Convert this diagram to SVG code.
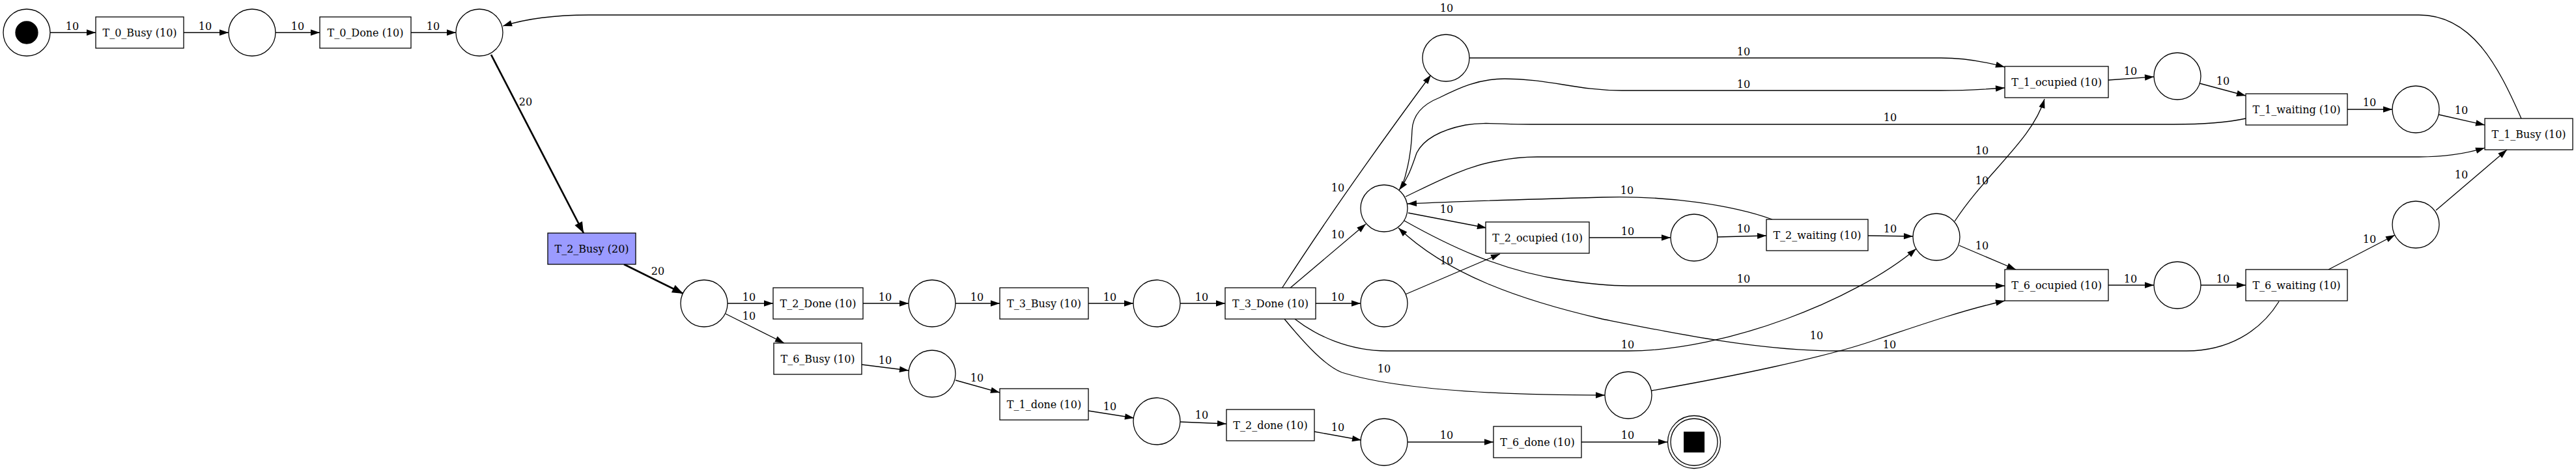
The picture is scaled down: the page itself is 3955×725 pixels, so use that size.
<svg xmlns="http://www.w3.org/2000/svg" width="3955" height="725" viewBox="0 0 3955 725">
<style>
.tr rect{fill:#ffffff;stroke:#000;stroke-width:1.3}
.pl circle{fill:#ffffff;stroke:#000;stroke-width:1.3}
text{font-family:"DejaVu Serif","Liberation Serif",serif;font-size:16px;text-anchor:middle;fill:#000}
#edges path{fill:none;stroke:#000;stroke-width:1.3;marker-end:url(#ah)}
#edges path.thick{stroke-width:2.7;marker-end:url(#ahb)}
</style>
<defs>
<marker id="ah" markerUnits="userSpaceOnUse" markerWidth="14" markerHeight="10" refX="14" refY="5" orient="auto" overflow="visible"><path d="M0,0.3 L14,5 L0,9.7 z" fill="#000"/></marker>
<marker id="ahb" markerUnits="userSpaceOnUse" markerWidth="18" markerHeight="14" refX="17" refY="7" orient="auto" overflow="visible"><path d="M0,0.5 L17,7 L0,13.5 z" fill="#000"/></marker>
</defs>
<rect width="3955" height="725" fill="#ffffff"/>

<g id="edges">
<path d="M77,50 L147,50"/><text x="111" y="46">10</text>
<path d="M282,50 L351,50"/><text x="315" y="46">10</text>
<path d="M423,50 L491,50"/><text x="457" y="46">10</text>
<path d="M631,50 L700,50"/><text x="665" y="46">10</text>
<path class="thick" d="M754,84 L896,358"/><text x="807" y="162">20</text>
<path class="thick" d="M958,406 L1049,451"/><text x="1010" y="422">20</text>
<path d="M1117,466 L1187,466"/><text x="1150" y="462">10</text>
<path d="M1114,482 L1204,527"/><text x="1150" y="491">10</text>
<path d="M1325,466 L1395,466"/><text x="1359" y="462">10</text>
<path d="M1323,560 L1395,569"/><text x="1359" y="559">10</text>
<path d="M1467,466 L1535,466"/><text x="1500" y="462">10</text>
<path d="M1467,584 L1535,603"/><text x="1500" y="586">10</text>
<path d="M1671,466 L1740,466"/><text x="1704" y="462">10</text>
<path d="M1671,631 L1741,642"/><text x="1704" y="630">10</text>
<path d="M1812,466 L1881,466"/><text x="1845" y="462">10</text>
<path d="M1812,648 L1883,651"/><text x="1845" y="643">10</text>
<path d="M2020,466 L2089,466"/><text x="2054" y="462">10</text>
<path d="M2018,663 L2090,676"/><text x="2054" y="662">10</text>
<path d="M2161,679 L2293,679"/><text x="2221" y="674">10</text>
<path d="M2428,679 L2560,679"/><text x="2499" y="674">10</text>
<path d="M1968,443 Q2060,300 2197,115"/><text x="2054" y="294">10</text>
<path d="M1980,443 L2097,344"/><text x="2054" y="366">10</text>
<path d="M2158,452 L2303,390"/><text x="2221" y="406">10</text>
<path d="M2162,327 L2282,350"/><text x="2221" y="327">10</text>
<path d="M2440,365 L2565,365"/><text x="2499" y="361">10</text>
<path d="M2637,364 L2712,362"/><text x="2677" y="357">10</text>
<path d="M2721,337 C2660,315 2560,300 2460,303 C2350,306 2250,309 2161,313"/><text x="2498" y="298">10</text>
<path d="M2868,362 L2937,363"/><text x="2902" y="357">10</text>
<path d="M3001,340 C3050,265 3120,215 3139,152"/><text x="3043" y="283">10</text>
<path d="M3008,377 L3095,414"/><text x="3043" y="383">10</text>
<path d="M2256,89 L2980,89 C3010,89 3045,94 3078,103"/><text x="2677" y="85">10</text>
<path d="M2152,288 C2162,260 2167,230 2168,200 C2169,175 2185,160 2210,150 C2240,135 2270,121 2310,121 C2380,121 2420,139 2490,139 L2980,139 C3020,139 3050,137 3078,135"/><text x="2677" y="135">10</text>
<path d="M3448,182 C3420,188 3390,191 3337,191 L2350,191 C2300,191 2280,187 2250,192 C2210,200 2185,215 2175,235 C2168,255 2163,272 2148,292"/><text x="2902" y="186">10</text>
<path d="M2158,302 C2200,282 2250,255 2300,247 C2320,243 2340,241 2360,241 L3714,241 C3760,241 3790,235 3815,227"/><text x="3043" y="237">10</text>
<path d="M3871,182 C3835,100 3795,23 3714,23 L904,23 C850,23 810,28 772,40"/><text x="2221" y="18">10</text>
<path d="M3237,123 L3307,118"/><text x="3271" y="115">10</text>
<path d="M3377,128 L3448,147"/><text x="3413" y="130">10</text>
<path d="M3604,168 L3673,168"/><text x="3638" y="163">10</text>
<path d="M3744,176 L3815,192"/><text x="3779" y="175">10</text>
<path d="M2156,339 C2220,375 2300,415 2400,430 C2440,436 2470,439 2500,439 L3078,439"/><text x="2677" y="434">10</text>
<path d="M2536,600 C2650,580 2800,550 2880,522 C2960,495 3020,475 3078,462"/><text x="2789" y="521">10</text>
<path d="M1972,490 C2005,530 2035,562 2060,572 C2140,597 2280,607 2464,607"/><text x="2125" y="572">10</text>
<path d="M1988,490 C2020,515 2070,539 2130,539 L2500,539 C2650,539 2850,460 2942,382"/><text x="2499" y="535">10</text>
<path d="M3499,463 C3470,510 3420,539 3357,539 L2820,539 C2700,539 2560,510 2460,490 C2330,460 2220,420 2147,350"/><text x="2901" y="535">10</text>
<path d="M3237,438 L3307,438"/><text x="3271" y="434">10</text>
<path d="M3379,438 L3448,438"/><text x="3413" y="434">10</text>
<path d="M3575,414 L3677,361"/><text x="3638" y="373">10</text>
<path d="M3740,323 L3849,230"/><text x="3779" y="274">10</text>
</g>

<g id="p_start" class="pl"><circle cx="41" cy="50" r="36"/><circle cx="41" cy="50" r="17" style="fill:#000;stroke:#000"/></g>
<g id="p1" class="pl"><circle cx="387" cy="50" r="36"/></g>
<g id="p2" class="pl"><circle cx="736" cy="50" r="36"/></g>
<g id="p3" class="pl"><circle cx="1081" cy="466" r="36"/></g>
<g id="p4" class="pl"><circle cx="1431" cy="466" r="36"/></g>
<g id="p5" class="pl"><circle cx="1431" cy="574" r="36"/></g>
<g id="p6" class="pl"><circle cx="1776" cy="466" r="36"/></g>
<g id="p7" class="pl"><circle cx="1776" cy="647" r="36"/></g>
<g id="p8" class="pl"><circle cx="2125" cy="466" r="36"/></g>
<g id="p9" class="pl"><circle cx="2220" cy="89" r="36"/></g>
<g id="p10" class="pl"><circle cx="2125" cy="320" r="36"/></g>
<g id="p11" class="pl"><circle cx="2125" cy="679" r="36"/></g>
<g id="p12" class="pl"><circle cx="2601" cy="365" r="36"/></g>
<g id="p13" class="pl"><circle cx="2973" cy="364" r="36"/></g>
<g id="p14" class="pl"><circle cx="2500" cy="607" r="36"/></g>
<g id="p_end" class="pl"><circle cx="2601" cy="679" r="40.5"/><circle cx="2601" cy="679" r="36"/><rect x="2585" y="663" width="32" height="32" fill="#000"/></g>
<g id="p16" class="pl"><circle cx="3343" cy="117" r="36"/></g>
<g id="p17" class="pl"><circle cx="3709" cy="168" r="36"/></g>
<g id="p18" class="pl"><circle cx="3343" cy="438" r="36"/></g>
<g id="p19" class="pl"><circle cx="3709" cy="345" r="36"/></g>

<g id="t_0_busy" class="tr"><rect x="147" y="26" width="135" height="48"/><text x="214.5" y="55.5">T_0_Busy (10)</text></g>
<g id="t_0_done" class="tr"><rect x="491" y="26" width="140" height="48"/><text x="561" y="55.5">T_0_Done (10)</text></g>
<g id="t_2_busy" class="tr"><rect x="841" y="358" width="135" height="48" style="fill:#9b9bff"/><text x="908.5" y="387.5">T_2_Busy (20)</text></g>
<g id="t_2_done_u" class="tr"><rect x="1187" y="442" width="138" height="48"/><text x="1256" y="471.5">T_2_Done (10)</text></g>
<g id="t_6_busy" class="tr"><rect x="1188" y="527" width="135" height="48"/><text x="1255.5" y="556.5">T_6_Busy (10)</text></g>
<g id="t_3_busy" class="tr"><rect x="1535" y="442" width="136" height="48"/><text x="1603" y="471.5">T_3_Busy (10)</text></g>
<g id="t_1_done" class="tr"><rect x="1535" y="597" width="136" height="48"/><text x="1603" y="626.5">T_1_done (10)</text></g>
<g id="t_3_done" class="tr"><rect x="1881" y="442" width="139" height="48"/><text x="1950.5" y="471.5">T_3_Done (10)</text></g>
<g id="t_2_done_l" class="tr"><rect x="1883" y="629" width="135" height="48"/><text x="1950.5" y="658.5">T_2_done (10)</text></g>
<g id="t_6_done" class="tr"><rect x="2293" y="655" width="135" height="48"/><text x="2360.5" y="684.5">T_6_done (10)</text></g>
<g id="t_2_ocupied" class="tr"><rect x="2281" y="341" width="159" height="48"/><text x="2360.5" y="370.5">T_2_ocupied (10)</text></g>
<g id="t_2_waiting" class="tr"><rect x="2712" y="337" width="156" height="48"/><text x="2790" y="366.5">T_2_waiting (10)</text></g>
<g id="t_1_ocupied" class="tr"><rect x="3078" y="102" width="159" height="48"/><text x="3157.5" y="131.5">T_1_ocupied (10)</text></g>
<g id="t_1_waiting" class="tr"><rect x="3448" y="144" width="156" height="48"/><text x="3526" y="173.5">T_1_waiting (10)</text></g>
<g id="t_1_busy" class="tr"><rect x="3815" y="182" width="135" height="48"/><text x="3882.5" y="211.5">T_1_Busy (10)</text></g>
<g id="t_6_ocupied" class="tr"><rect x="3078" y="414" width="159" height="48"/><text x="3157.5" y="443.5">T_6_ocupied (10)</text></g>
<g id="t_6_waiting" class="tr"><rect x="3448" y="414" width="156" height="48"/><text x="3526" y="443.5">T_6_waiting (10)</text></g>
</svg>
